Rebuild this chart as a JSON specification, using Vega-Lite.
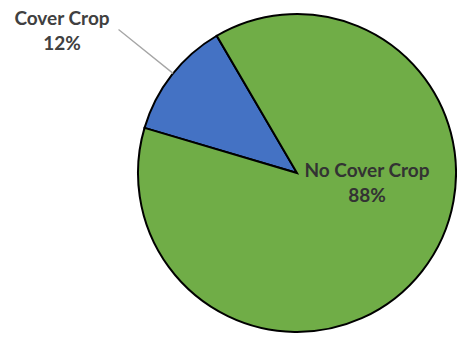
{
  "$schema": "https://vega.github.io/schema/vega-lite/v6.json",
  "width": 318,
  "height": 318,
  "autosize": {"type": "none"},
  "padding": {"left": 138, "top": 14, "right": 1, "bottom": 5},
  "background": "white",
  "config": {"view": {"stroke": null}},
  "data": {
    "values": [
      {"category": "Cover Crop", "percent": 12, "label": "Cover Crop\n12%"},
      {"category": "No Cover Crop", "percent": 88, "label": "No Cover Crop\n88%"}
    ]
  },
  "encoding": {
    "theta": {
      "field": "percent",
      "type": "quantitative",
      "stack": true,
      "scale": {"domain": [0, 100], "range": [5.0, 11.2832]}
    }
  },
  "layer": [
    {
      "mark": {"type": "arc", "stroke": "black", "strokeWidth": 2},
      "encoding": {
        "color": {
          "field": "category",
          "type": "nominal",
          "scale": {"domain": ["Cover Crop", "No Cover Crop"], "range": ["#4472C4", "#70AD47"]},
          "legend": null
        }
      }
    },
    {
      "transform": [{"filter": "datum.category === 'Cover Crop'"}],
      "mark": {
        "type": "arc",
        "radius": 229,
        "radius2": 159,
        "fillOpacity": 0,
        "stroke": "#A6A6A6",
        "strokeWidth": 1.3
      },
      "encoding": {
        "theta": {"datum": 6.2, "type": "quantitative"},
        "theta2": {"datum": 6.2}
      }
    },
    {
      "transform": [{"filter": "datum.category === 'Cover Crop'"}],
      "mark": {
        "type": "text",
        "radius": 0,
        "dx": -235,
        "dy": -148,
        "align": "center",
        "baseline": "alphabetic",
        "lineBreak": "\n",
        "lineHeight": 25,
        "font": "Lato",
        "fontWeight": "bold",
        "fontSize": 19,
        "color": "#404040"
      },
      "encoding": {"text": {"field": "label"}}
    },
    {
      "transform": [{"filter": "datum.category === 'No Cover Crop'"}],
      "mark": {
        "type": "text",
        "radius": 0,
        "dx": 70,
        "dy": 4,
        "align": "center",
        "baseline": "alphabetic",
        "lineBreak": "\n",
        "lineHeight": 25,
        "font": "Lato",
        "fontWeight": "bold",
        "fontSize": 19,
        "color": "#333333"
      },
      "encoding": {"text": {"field": "label"}}
    }
  ]
}
